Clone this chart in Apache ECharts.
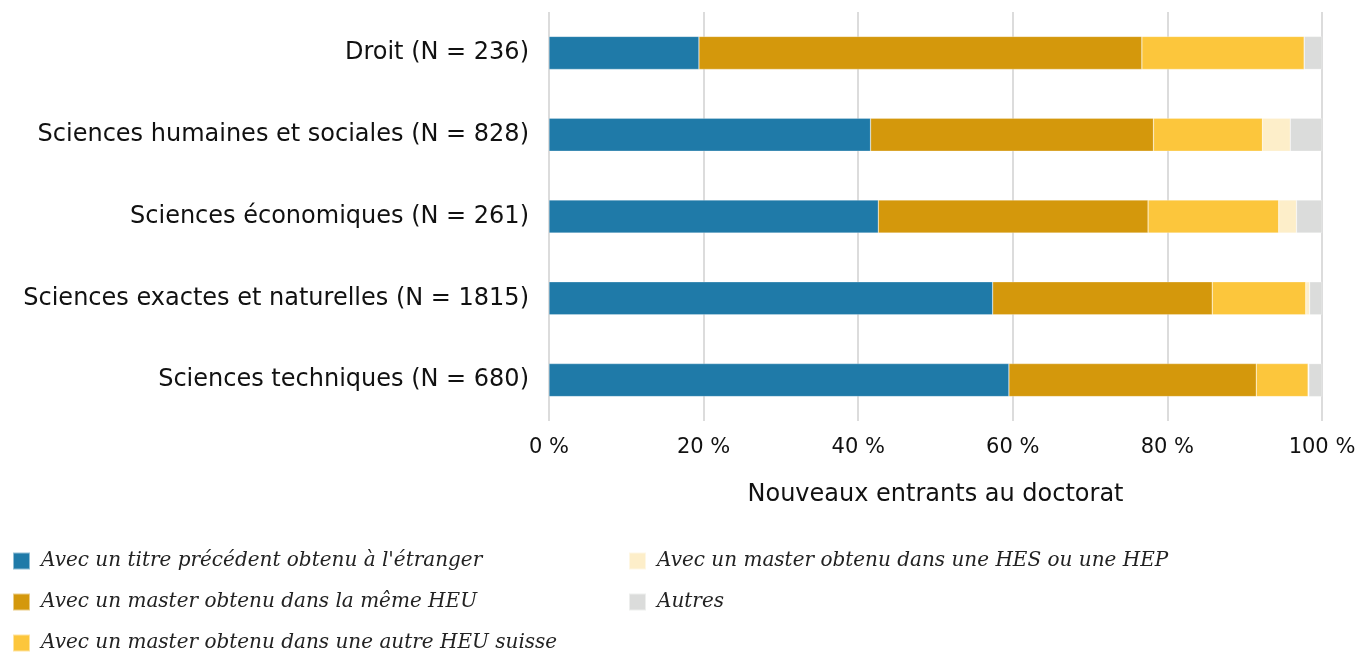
<!DOCTYPE html>
<html>
<head>
<meta charset="utf-8">
<script src="https://cdn.jsdelivr.net/npm/echarts@6/dist/echarts.min.js"></script>
<style>
  html, body { margin: 0; padding: 0; background: #fff; }
  #main { width: 1360px; height: 653px; }
</style>
</head>
<body>
<div id="main"></div>
<script>
var categories = [
    'Droit (N = 236)',
    'Sciences humaines et sociales (N = 828)',
    'Sciences économiques (N = 261)',
    'Sciences exactes et naturelles (N = 1815)',
    'Sciences techniques (N = 680)'
];
var seriesNames = [
    'Avec un titre précédent obtenu à l\'étranger',
    'Avec un master obtenu dans la même HEU',
    'Avec un master obtenu dans une autre HEU suisse',
    'Avec un master obtenu dans une HES ou une HEP',
    'Autres'
];
// part en % pour chaque domaine (même ordre que categories)
var etranger   = [19.4, 41.6, 42.6, 57.4, 59.5];
var memeHeu    = [57.3, 36.6, 34.9, 28.4, 32.0];
var autreHeu   = [21.0, 14.1, 16.9, 12.1, 6.7];
var hesHep     = [0.0, 3.6, 2.3, 0.5, 0.1];
var autres     = [2.3, 4.1, 3.3, 1.6, 1.7];
var xTicks = [0, 20, 40, 60, 80, 100];

var colors = ['#1f7aa8', '#d4980c', '#fcc63c', '#fdeec9', '#dbdcdb'];
var values = [etranger, memeHeu, autreHeu, hesHep, autres];

var myChart = echarts.init(document.getElementById('main'));

var series = [];
for (var i = 0; i < seriesNames.length; i++) {
    series.push({
        name: seriesNames[i],
        type: 'bar',
        stack: 'total',
        barWidth: 33,
        itemStyle: { color: colors[i], borderColor: 'rgba(255,255,255,0.5)', borderWidth: 0.5 },
        data: values[i]
    });
}

var legendText = {
    fontFamily: 'DejaVu Serif', fontStyle: 'italic', fontSize: 20,
    lineHeight: 17, color: '#222', padding: [0, 0, 0, 6]
};
var sans = 'DejaVu Sans';

function makeLegend(names, left) {
    return {
        data: names,
        orient: 'vertical',
        left: left,
        top: 551,
        height: 200,
        padding: 0,
        icon: 'rect',
        itemWidth: 17,
        itemHeight: 17,
        itemGap: 21,
        textStyle: legendText
    };
}

var option = {
    animation: false,
    grid: { left: 549, right: 38, top: 12, bottom: 232 },
    legend: [makeLegend(seriesNames.slice(0, 3), 12), makeLegend(seriesNames.slice(3), 628)],
    xAxis: {
        type: 'value',
        min: 0,
        max: 100,
        interval: 20,
        name: 'Nouveaux entrants au doctorat',
        nameLocation: 'middle',
        nameGap: 62,
        nameTextStyle: { fontFamily: sans, fontSize: 24, color: '#111' },
        axisLine: { show: false },
        axisTick: { show: false },
        splitLine: { lineStyle: { color: '#dcdcdc', width: 2 } },
        axisLabel: {
            margin: 16,
            fontFamily: sans,
            fontSize: 21,
            color: '#111',
            formatter: function (v) { return xTicks.indexOf(v) >= 0 ? v + ' %' : ''; }
        }
    },
    yAxis: {
        type: 'category',
        inverse: true,
        data: categories,
        axisLine: { show: false },
        axisTick: { show: false },
        axisLabel: {
            margin: 20,
            fontFamily: sans,
            fontSize: 24,
            color: '#111'
        }
    },
    series: series
};

myChart.setOption(option);
</script>
</body>
</html>
